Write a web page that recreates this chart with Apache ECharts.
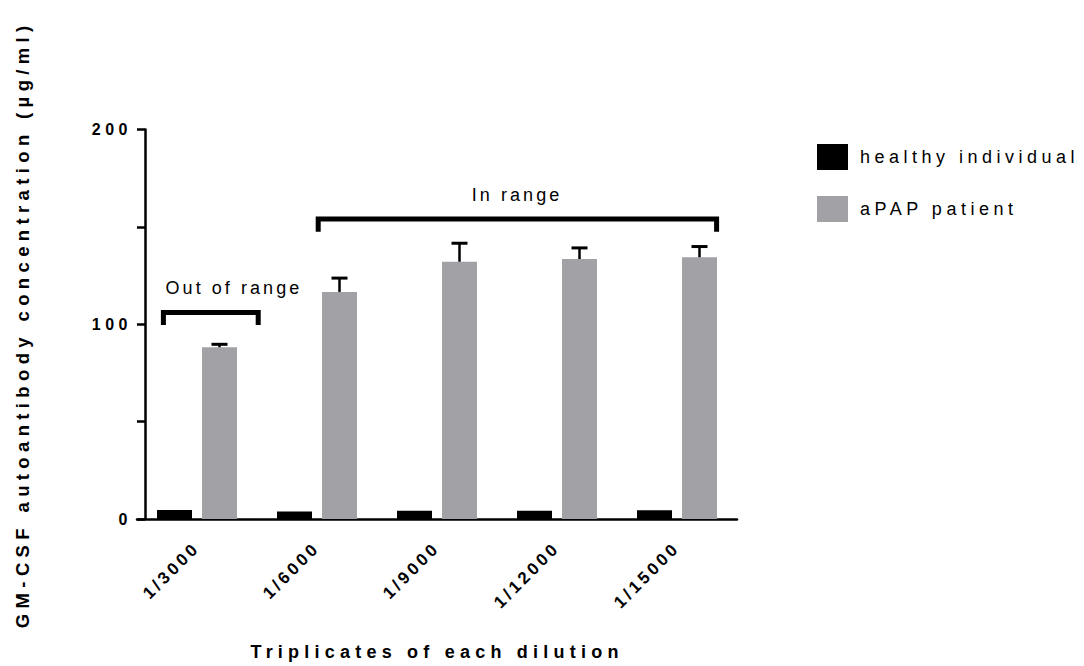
<!DOCTYPE html>
<html>
<head>
<meta charset="utf-8">
<script src="https://cdn.jsdelivr.net/npm/echarts@6/dist/echarts.min.js"></script>
<style>
  html, body { margin: 0; padding: 0; background: #fff; }
  #chart { width: 1084px; height: 666px; }
  #chart svg text { letter-spacing: 0.28em; }
  #chart svg text[style*="lsTick"] { letter-spacing: 0.28em; }
  #chart svg text[style*="lsXLab"] { letter-spacing: 0.2em; }
  #chart svg text[style*="lsYTitle"] { letter-spacing: 0.29em; }
  #chart svg text[style*="lsXTitle"] { letter-spacing: 0.29em; }
  #chart svg text[style*="lsLegend"] { letter-spacing: 0.25em; }
  #chart svg text[style*="lsNote"] { letter-spacing: 0.17em; }
</style>
</head>
<body>
<div id="chart"></div>
<script>
// ---- data ----
const categories = ['1/3000', '1/6000', '1/9000', '1/12000', '1/15000'];
const healthyValues = [4.6, 3.9, 4.2, 4.3, 4.5];
const patientValues = [88.2, 116.6, 132.1, 133.5, 134.4];
const patientErrors = [1.5, 7.1, 9.5, 5.7, 5.5];
const seriesNames = ['healthy individual', 'aPAP patient'];
const yTickLabels = [0, 100, 200];
// annotation brackets (category-position span, y values)
const bracketLabels = ['Out of range', 'In range'];
const bracketFrom = [-0.28, 1.01];
const bracketTo = [0.51, 4.33];
const bracketTop = [106.0, 154.0];
const bracketLeg = [99.6, 147.5];
const bracketLabelX = [0.308, 2.667];
const bracketLabelY = [118.6, 166.5];

// ---- styles ----
const BASE = 'Liberation Sans, Arial, Helvetica';
const f = hook => BASE + ', ' + hook + ', sans-serif';
const BAR_W = 35;
const BAR_GAP = 10;
const GRAY = '#a2a1a6';

const chart = echarts.init(document.getElementById('chart'), null, { renderer: 'svg' });

const option = {
  animation: false,
  backgroundColor: '#fff',
  grid: { left: 137, right: 347, top: 129.5, bottom: 147 },
  legend: {
    data: seriesNames,
    orient: 'vertical',
    left: 812,
    top: 139,
    icon: 'rect',
    itemWidth: 31,
    itemHeight: 26,
    itemGap: 26,
    textStyle: { fontFamily: f('lsLegend'), fontSize: 18, color: '#000', padding: [0, 0, 0, 7] }
  },
  xAxis: {
    type: 'category',
    data: categories,
    name: 'Triplicates of each dilution',
    nameLocation: 'middle',
    nameGap: 124,
    nameTextStyle: { fontFamily: f('lsXTitle'), fontSize: 18, fontWeight: 'bold', color: '#000' },
    axisLine: { lineStyle: { color: '#000', width: 2.5 } },
    axisTick: { alignWithLabel: true, length: 9, lineStyle: { color: '#000', width: 2.5 } },
    axisLabel: {
      rotate: 45, margin: 26, interval: 0,
      fontFamily: f('lsXLab'), fontSize: 17, fontWeight: 'bold', color: '#000'
    },
    splitLine: { show: false }
  },
  yAxis: {
    type: 'value',
    min: 0, max: 200, interval: 50,
    offset: -8,
    name: 'GM-CSF autoantibody concentration (µg/ml)',
    nameLocation: 'middle',
    nameGap: 113,
    nameRotate: 90,
    nameTextStyle: { fontFamily: f('lsYTitle'), fontSize: 18.5, fontWeight: 'bold', color: '#000' },
    axisLine: { show: true, lineStyle: { color: '#000', width: 2.5 } },
    axisTick: { show: true, length: 8, lineStyle: { color: '#000', width: 2.5 } },
    axisLabel: {
      margin: 13,
      fontFamily: f('lsTick'), fontSize: 16, fontWeight: 'bold', color: '#000',
      formatter: v => (yTickLabels.indexOf(v) >= 0 ? String(v) : '')
    },
    splitLine: { show: false }
  },
  series: [
    {
      name: seriesNames[0], type: 'bar', data: healthyValues,
      barWidth: BAR_W, barGap: (BAR_GAP / BAR_W * 100) + '%',
      itemStyle: { color: '#000' }
    },
    {
      name: seriesNames[1], type: 'bar', data: patientValues,
      barWidth: BAR_W,
      itemStyle: { color: GRAY }
    },
    {
      name: 'error', type: 'custom', z: 5,
      data: patientValues.map((v, i) => [i, v, v + patientErrors[i]]),
      encode: { x: 0, y: [1, 2] },
      renderItem: (params, api) => {
        const i = api.value(0);
        const base = api.coord([i, api.value(1)]);
        const top = api.coord([i, api.value(2)]);
        const x = base[0] + (BAR_W + BAR_GAP) / 2;
        return {
          type: 'group',
          children: [
            { type: 'line', shape: { x1: x, y1: base[1], x2: x, y2: top[1] }, style: { stroke: '#000', lineWidth: 2.5 } },
            { type: 'line', shape: { x1: x - 8, y1: top[1], x2: x + 8, y2: top[1] }, style: { stroke: '#000', lineWidth: 3 } }
          ]
        };
      }
    },
    {
      name: 'brackets', type: 'custom', z: 6,
      data: bracketLabels.map((l, i) => [0, bracketFrom[i], bracketTo[i], bracketTop[i], bracketLeg[i], bracketLabelX[i], bracketLabelY[i]]),
      encode: { x: 0, y: 3 },
      renderItem: (params, api) => {
        const idx = params.dataIndex;
        const c0 = api.coord([0, 0])[0];
        const band = api.size([1, 0])[0];
        const x1 = c0 + api.value(1) * band;
        const x2 = c0 + api.value(2) * band;
        const yt = api.coord([0, api.value(3)])[1];
        const yl = api.coord([0, api.value(4)])[1];
        const lx = c0 + api.value(5) * band;
        const ly = api.coord([0, api.value(6)])[1];
        return {
          type: 'group',
          children: [
            {
              type: 'polyline',
              shape: { points: [[x1, yl], [x1, yt], [x2, yt], [x2, yl]] },
              style: { stroke: '#000', lineWidth: 5, fill: null, lineJoin: 'miter', lineCap: 'butt' }
            },
            {
              type: 'text',
              style: {
                text: bracketLabels[idx], x: lx, y: ly,
                align: 'center', verticalAlign: 'middle',
                fontFamily: f('lsNote'), fontSize: 18, fill: '#000'
              }
            }
          ]
        };
      }
    }
  ]
};
chart.setOption(option);
</script>
</body>
</html>
